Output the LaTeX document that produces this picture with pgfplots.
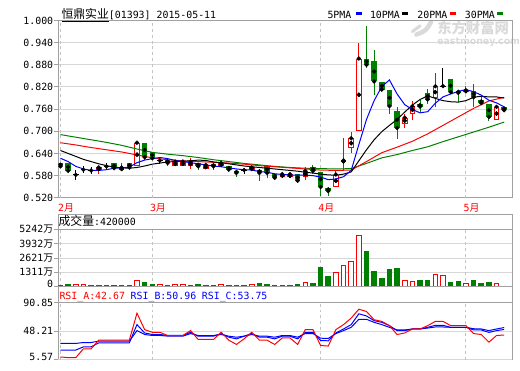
\documentclass[border=0pt]{standalone}
\usepackage{pgfplots}
\pgfplotsset{compat=1.18}
\usepackage{pgfplotstable}
\usepackage{fontspec}
\setmainfont{DejaVu Sans Mono}
\newfontfamily\cjk{Noto Sans CJK SC}
\newfontfamily\wmfont{DejaVu Sans}
\definecolor{cred}{RGB}{255,0,0}
\definecolor{cgreen}{RGB}{0,128,0}
\definecolor{cblue}{RGB}{0,0,255}
\definecolor{framec}{RGB}{160,160,160}
\definecolor{gridc}{RGB}{215,215,215}
\definecolor{dashc}{RGB}{195,195,195}
\definecolor{wmark}{RGB}{218,218,218}
\tikzset{vdash/.style={dashc, line width=1pt, dash pattern=on 3pt off 3pt}}

\pgfplotstableread{
i o h l c
5 0.594 0.602 0.585 0.602
8 0.594 0.614 0.594 0.602
10 0.605 0.669 0.605 0.669
15 0.606 0.618 0.606 0.618
16 0.606 0.618 0.606 0.618
17 0.607 0.627 0.598 0.617
19 0.597 0.609 0.597 0.609
21 0.605 0.614 0.605 0.614
25 0.594 0.602 0.594 0.602
29 0.575 0.584 0.575 0.584
30 0.575 0.584 0.575 0.584
32 0.575 0.602 0.569 0.593
36 0.549 0.593 0.549 0.583
37 0.616 0.681 0.593 0.621
38 0.654 0.699 0.641 0.681
39 0.701 0.938 0.701 0.897
45 0.721 0.748 0.709 0.737
46 0.748 0.783 0.730 0.768
49 0.790 0.859 0.766 0.822
53 0.806 0.822 0.806 0.811
57 0.730 0.766 0.730 0.766
}\upc
\pgfplotstableread{
i o h l c
0 0.614 0.614 0.605 0.605
1 0.614 0.614 0.587 0.593
7 0.614 0.614 0.594 0.600
9 0.614 0.614 0.596 0.602
11 0.669 0.669 0.622 0.630
12 0.645 0.645 0.624 0.627
14 0.623 0.623 0.605 0.614
18 0.614 0.614 0.594 0.605
20 0.611 0.611 0.596 0.605
22 0.605 0.605 0.596 0.596
23 0.593 0.593 0.575 0.587
26 0.596 0.596 0.565 0.587
27 0.605 0.605 0.574 0.587
28 0.584 0.584 0.574 0.574
31 0.584 0.584 0.566 0.566
33 0.602 0.609 0.585 0.593
34 0.591 0.591 0.526 0.549
35 0.547 0.547 0.526 0.538
40 0.897 0.986 0.870 0.880
41 0.889 0.919 0.797 0.835
42 0.833 0.833 0.813 0.813
43 0.813 0.813 0.748 0.768
44 0.754 0.766 0.679 0.709
47 0.775 0.786 0.752 0.767
48 0.804 0.815 0.775 0.786
51 0.841 0.841 0.806 0.806
52 0.810 0.813 0.779 0.804
54 0.810 0.828 0.767 0.792
55 0.786 0.795 0.770 0.776
56 0.775 0.775 0.727 0.739
58 0.766 0.766 0.757 0.757
}\dnc
\pgfplotstableread{
i o h l c
2 0.582 0.594 0.567 0.582
3 0.596 0.605 0.587 0.596
4 0.594 0.602 0.585 0.594
6 0.605 0.614 0.596 0.605
13 0.621 0.627 0.612 0.621
24 0.595 0.600 0.585 0.595
50 0.822 0.870 0.822 0.822
}\djc
\pgfplotstableread{
i v
2 183
3 183
4 92
5 92
6 92
8 92
10 610
13 183
15 183
16 183
17 92
19 92
21 183
24 92
25 183
29 92
30 92
32 366
36 1281
37 1922
38 2288
39 4667
45 610
46 519
49 1098
50 1007
53 336
57 336
}\upv
\pgfplotstableread{
i v
0 122
1 183
7 92
9 92
11 366
12 183
14 92
18 183
20 92
22 92
23 92
26 275
27 183
28 92
31 183
33 275
34 1769
35 915
40 3203
41 1373
42 732
43 1556
44 1647
47 549
48 549
51 366
52 458
54 549
55 275
56 366
58 60
}\dnv

\begin{document}
\begin{tikzpicture}[x=1pt,y=1pt]
\fill[white] (0pt,0pt) rectangle (520pt,365pt);
\pgfplotsset{
  panel/.style={scale only axis, width=459pt, xmin=-0.28, xmax=59.05,
    axis line style={framec, line width=1pt},
    xtick={0,12,34,53}, xtick style={draw=none},
    ytick pos=left, tick align=outside, major tick length=4pt,
    ytick style={framec, line width=1pt},
    ymajorgrids, grid style={gridc, line width=1pt},
    yticklabel style={inner sep=1pt}},
  wick/.style={only marks, mark=none, error bars/.cd, y dir=both, y explicit, error mark=none,
    error bar style={draw=#1, line width=1pt}},
  body/.style 2 args={only marks, mark=none, error bars/.cd, y dir=both, y explicit, error mark=none,
    error bar style={draw=#1, line width=#2}}
}
% ---------------- watermark
\draw[wmark, line width=3pt, line cap=round] (417pt,333pt) .. controls (420pt,336pt) .. (425pt,339pt);
\draw[wmark, line width=4.5pt, line cap=round] (421pt,330pt) .. controls (431pt,334pt) .. (436pt,343pt);
\node[anchor=base west, inner sep=0pt, text=wmark] at (442pt,331pt) {\cjk\bfseries\fontsize{14.5}{15}\selectfont 东方财富网};
\node[anchor=base west, inner sep=0pt, text=wmark] at (442pt,320pt) {\wmfont\bfseries\fontsize{9.5}{10}\selectfont eastmoney.com};
% ---------------- price panel
\begin{axis}[panel, at={(59pt,165pt)}, anchor=south west, height=179.3pt,
  ymin=0.52, ymax=1.0,
  ytick={0.52,0.58,0.64,0.70,0.76,0.82,0.88,0.94,1.00},
  yticklabels={0.520,0.580,0.640,0.700,0.760,0.820,0.880,0.940,1.000},
  xticklabels={{2{\cjk 月}},{3{\cjk 月}},{4{\cjk 月}},{5{\cjk 月}}},
  xticklabel style={text=cred, anchor=north west, inner sep=0pt, xshift=-2.5pt, yshift=-1.5pt}]
\pgfplotsinvokeforeach{0,12,34,53}{\draw[vdash] ({axis cs:#1,0.6}|-{rel axis cs:0,0}) -- ({axis cs:#1,0.6}|-{rel axis cs:0,1});}
% wicks
\addplot[wick=cred] table[x=i, y=c, y error plus expr={\thisrow{h}-\thisrow{c}}, y error minus expr={\thisrow{c}-\thisrow{l}}] {\upc};
\addplot[wick=cgreen] table[x=i, y=c, y error plus expr={\thisrow{h}-\thisrow{c}}, y error minus expr={\thisrow{c}-\thisrow{l}}] {\dnc};
\addplot[wick=black] table[x=i, y=c, y error plus expr={\thisrow{h}-\thisrow{c}}, y error minus expr={\thisrow{c}-\thisrow{l}}] {\djc};
% bodies
\addplot[body={cred}{5.6pt}] table[x=i, y expr={0.5*(\thisrow{o}+\thisrow{c})}, y error expr={max(0.5*abs(\thisrow{c}-\thisrow{o}),0.0014)}] {\upc};
\addplot[body={white}{3.6pt}] table[x=i, y expr={0.5*(\thisrow{o}+\thisrow{c})}, y error expr={max(0.5*abs(\thisrow{c}-\thisrow{o})-0.0027,0)}] {\upc};
\addplot[body={cgreen}{5.6pt}] table[x=i, y expr={0.5*(\thisrow{o}+\thisrow{c})}, y error expr={max(0.5*abs(\thisrow{c}-\thisrow{o}),0.0014)}] {\dnc};
\addplot[only marks, mark=-, mark size=2.8pt, black, mark options={line width=1pt}] table[x=i, y=c] {\djc};
% moving averages
\addplot[cgreen, line width=1pt, mark=none] coordinates {
(0,0.691)(2,0.684)(4,0.677)(6,0.670)(8,0.662)(10,0.652)(12,0.643)(14,0.638)(16,0.634)(18,0.629)
(20,0.623)(22,0.618)(24,0.613)(26,0.609)(28,0.605)(30,0.602)(32,0.600)(34,0.599)(36,0.598)(38,0.599)
(40,0.613)(42,0.628)(44,0.637)(46,0.648)(48,0.658)(50,0.672)(52,0.685)(54,0.698)(56,0.711)(58,0.725)};
\addplot[cred, line width=1pt, mark=none] coordinates {
(0,0.669)(2,0.663)(4,0.656)(6,0.650)(8,0.644)(10,0.636)(12,0.628)(14,0.623)(16,0.620)(18,0.618)
(20,0.616)(22,0.614)(24,0.611)(26,0.607)(28,0.604)(30,0.601)(32,0.598)(34,0.595)(36,0.594)(38,0.595)
(40,0.618)(42,0.642)(44,0.657)(46,0.673)(48,0.693)(50,0.716)(52,0.739)(54,0.762)(56,0.782)(58,0.792)};
\addplot[black, line width=1pt, mark=none] coordinates {
(0,0.648)(1,0.640)(2,0.632)(3,0.624)(4,0.618)(5,0.612)(6,0.607)(7,0.603)(8,0.601)(9,0.600)
(10,0.602)(11,0.606)(12,0.611)(13,0.614)(14,0.617)(15,0.618)(16,0.619)(17,0.620)(18,0.622)(19,0.621)
(20,0.617)(21,0.615)(22,0.612)(23,0.609)(24,0.606)(25,0.604)(26,0.602)(27,0.600)(28,0.598)(29,0.596)
(30,0.594)(31,0.592)(32,0.589)(33,0.587)(34,0.584)(35,0.582)(36,0.581)(37,0.584)(38,0.590)(39,0.620)
(40,0.650)(41,0.677)(42,0.699)(43,0.716)(44,0.732)(45,0.752)(46,0.771)(47,0.786)(48,0.796)(49,0.789)
(50,0.783)(51,0.780)(52,0.779)(53,0.783)(54,0.792)(55,0.795)(56,0.793)(57,0.793)(58,0.790)};
\addplot[cblue, line width=1pt, mark=none] coordinates {
(0,0.627)(1,0.618)(2,0.605)(3,0.598)(4,0.594)(5,0.594)(6,0.596)(7,0.600)(8,0.601)(9,0.603)
(10,0.615)(11,0.622)(12,0.626)(13,0.629)(14,0.626)(15,0.621)(16,0.618)(17,0.615)(18,0.612)(19,0.609)
(20,0.606)(21,0.604)(22,0.601)(23,0.598)(24,0.596)(25,0.595)(26,0.591)(27,0.589)(28,0.585)(29,0.583)
(30,0.582)(31,0.581)(32,0.581)(33,0.580)(34,0.576)(35,0.569)(36,0.571)(37,0.577)(38,0.594)(39,0.664)
(40,0.732)(41,0.783)(42,0.821)(43,0.839)(44,0.801)(45,0.772)(46,0.759)(47,0.750)(48,0.753)(49,0.776)
(50,0.793)(51,0.801)(52,0.808)(53,0.813)(54,0.807)(55,0.798)(56,0.784)(57,0.777)(58,0.766)};
\end{axis}
% ---------------- volume panel
\draw[framec, line width=1pt] (59pt,148pt) rectangle (518pt,133pt);
\begin{axis}[panel, at={(59pt,75pt)}, anchor=south west, height=58pt,
  ymin=0, ymax=5242, ytick={1311,2621,3932,5242},
  yticklabels={{1311{\cjk 万}},{2621{\cjk 万}},{3932{\cjk 万}},{5242{\cjk 万}}},
  extra y ticks={0}, extra y tick labels={0},
  extra y tick style={yticklabel style={yshift=3pt}},
  xticklabels={}]
\pgfplotsinvokeforeach{0,12,34,53}{\draw[vdash] ({axis cs:#1,0}|-{rel axis cs:0,0}) -- ({axis cs:#1,0}|-{rel axis cs:0,1});}
\addplot[ybar, bar width=4.6pt, bar shift=0pt, draw=cred, fill=white, line width=1pt] table[x=i, y=v] {\upv};
\addplot[ybar, bar width=4.6pt, bar shift=0pt, draw=cgreen, fill=cgreen, line width=1pt] table[x=i, y=v] {\dnv};
\end{axis}
% ---------------- RSI panel
\draw[framec, line width=1pt] (59pt,75pt) rectangle (518pt,59pt);
\begin{axis}[panel, at={(59pt,1pt)}, anchor=south west, height=58pt,
  ymin=5.57, ymax=90.85, ytick={48.21,90.85}, yticklabels={48.21,90.85},
  extra y ticks={5.57}, extra y tick labels={5.57},
  extra y tick style={yticklabel style={yshift=3pt}},
  xticklabels={}]
\pgfplotsinvokeforeach{0,12,34,53}{\draw[vdash] ({axis cs:#1,50}|-{rel axis cs:0,0}) -- ({axis cs:#1,50}|-{rel axis cs:0,1});}
\addplot[cblue, line width=1pt, mark=none] coordinates {
(0,30.1)(1,30.1)(2,30.1)(3,31.5)(4,31.5)(5,33.5)(6,33.5)(7,33.5)(8,33.5)(9,33.5)
(10,49.2)(11,43.4)(12,42.0)(13,42.0)(14,41.0)(15,41.0)(16,41.0)(17,44.8)(18,41.9)(19,41.9)
(20,41.9)(21,43.4)(22,40.9)(23,39.4)(24,40.9)(25,43.4)(26,40.9)(27,40.9)(28,39.4)(29,41.9)
(30,41.9)(31,39.4)(32,44.8)(33,44.8)(34,37.9)(35,37.5)(36,44.8)(37,49.2)(38,54.1)(39,66.0)
(40,66.0)(41,61.5)(42,58.1)(43,54.1)(44,50.2)(45,50.2)(46,51.6)(47,51.6)(48,53.0)(49,54.6)
(50,54.6)(51,54.1)(52,54.1)(53,54.1)(54,52.0)(55,51.6)(56,49.2)(57,51.6)(58,53.75)};
\addplot[cblue, line width=1pt, mark=none] coordinates {
(0,20.3)(1,20.3)(2,20.3)(3,25.0)(4,25.0)(5,31.0)(6,31.0)(7,31.0)(8,31.0)(9,31.0)
(10,58.1)(11,45.7)(12,43.4)(13,43.4)(14,42.0)(15,42.0)(16,42.0)(17,46.7)(18,40.9)(19,40.9)
(20,40.9)(21,44.8)(22,39.4)(23,36.9)(24,40.9)(25,44.8)(26,39.4)(27,39.4)(28,36.9)(29,40.9)
(30,40.9)(31,36.9)(32,46.7)(33,46.7)(34,34.5)(35,34.0)(36,45.7)(37,51.6)(38,58.1)(39,74.2)
(40,71.0)(41,64.0)(42,61.5)(43,56.6)(44,49.2)(45,49.2)(46,51.6)(47,51.6)(48,54.1)(49,57.0)
(50,57.0)(51,54.1)(52,54.1)(53,54.1)(54,50.2)(55,50.2)(56,46.5)(57,49.2)(58,50.96)};
\addplot[cred, line width=1pt, mark=none] coordinates {
(0,10.0)(1,9.0)(2,9.0)(3,22.2)(4,22.2)(5,35.0)(6,35.0)(7,35.0)(8,35.0)(9,35.0)
(10,75.1)(11,50.7)(12,46.7)(13,46.7)(14,41.9)(15,41.9)(16,41.9)(17,49.2)(18,36.0)(19,36.0)
(20,36.0)(21,46.7)(22,35.0)(23,28.6)(24,36.9)(25,46.7)(26,35.0)(27,35.0)(28,28.6)(29,38.3)
(30,38.3)(31,28.6)(32,50.7)(33,50.7)(34,27.1)(35,26.2)(36,50.7)(37,58.1)(38,67.8)(39,81.0)
(40,77.6)(41,65.4)(42,62.9)(43,56.6)(44,43.4)(45,45.7)(46,51.6)(47,51.6)(48,56.6)(49,62.9)
(50,62.9)(51,56.6)(52,56.6)(53,56.6)(54,44.8)(55,43.4)(56,32.0)(57,41.9)(58,42.67)};
\end{axis}
% ---------------- texts
\node[anchor=base west, inner sep=0pt] at (62pt,346.5pt) {\underline{\cjk\fontsize{12}{12}\selectfont 恒鼎实业}[01393] 2015-05-11};
\node[anchor=base west, inner sep=0pt] at (331pt,346.7pt) {5PMA};
\fill[cblue] (360pt,350pt) rectangle (366pt,353pt);
\node[anchor=base west, inner sep=0pt] at (374pt,346.7pt) {10PMA};
\fill[black] (407pt,350pt) rectangle (413pt,353pt);
\node[anchor=base west, inner sep=0pt] at (422pt,346.7pt) {20PMA};
\fill[cred] (455pt,350pt) rectangle (461pt,353pt);
\node[anchor=base west, inner sep=0pt] at (470pt,346.7pt) {30PMA};
\fill[cgreen] (503pt,350pt) rectangle (509pt,353pt);
\node[anchor=base west, inner sep=0pt] at (59pt,136.5pt) {{\cjk\fontsize{12}{12}\selectfont 成交量}:420000};
\node[anchor=base west, inner sep=0pt, text=cred] at (60pt,62.5pt) {RSI\_A:42.67};
\node[anchor=base west, inner sep=0pt, text=cblue] at (132pt,62.5pt) {RSI\_B:50.96};
\node[anchor=base west, inner sep=0pt, text=cblue] at (204pt,62.5pt) {RSI\_C:53.75};
\end{tikzpicture}
\end{document}
